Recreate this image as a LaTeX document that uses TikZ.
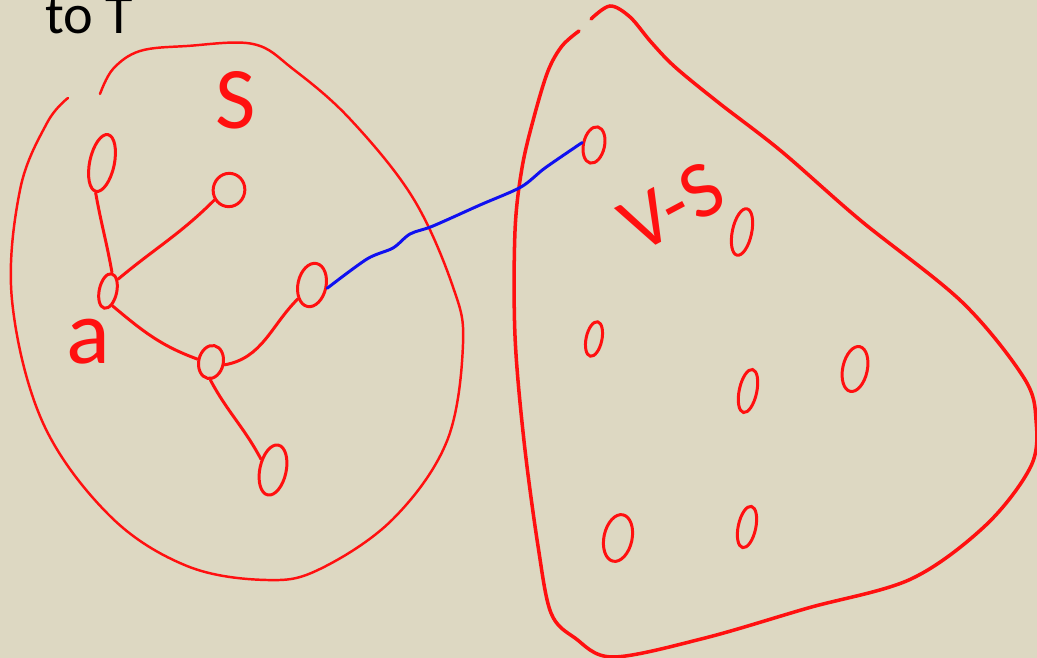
\documentclass[tikz,border=0pt]{standalone}
\usepackage{fontspec}
\setmainfont{Carlito}
\usetikzlibrary{shapes.geometric, calc}
\definecolor{paper}{HTML}{DDD8C2}
\definecolor{ink}{HTML}{FF1010}
\definecolor{bluink}{HTML}{1010F0}
\tikzset{
  vert/.style={ellipse, draw=ink, line width=1.7pt, inner sep=0pt, rotate=-12},
  edge/.style={draw=ink, line width=1.7pt, line cap=round},
  blob/.style={draw=ink, line width=1.4pt, line cap=round},
  bigblob/.style={blob, line width=2pt},
  hand/.style={text=ink},
  cross/.style={draw=bluink, line width=1.7pt, line cap=round},
}
\begin{document}
\begin{tikzpicture}[x=0.02cm, y=-0.02cm]
  \fill[paper] (0,0) rectangle (1037,658);
  \useasboundingbox (0,0) rectangle (1037,658);

  \node[anchor=base west, inner sep=0pt, font=\fontsize{32}{32}\selectfont] (title) at (45,34) {to T};

  % set S
  \draw[blob] plot[smooth, tension=0.6] coordinates {(100,94) (113,69) (140,51) (187,46) (253,44) (293,69) (350,119) (413,198) (453,287) (463,344) (447,441) (393,519) (320,569) (267,580) (187,566) (110,516) (43,423) (12,300) (20,190) (47,123) (68,98)};
  \node[hand, font=\fontsize{50}{50}\selectfont] (lblS) at (236,100) {S};
  \node[hand, font=\fontsize{52}{52}\selectfont] (lbla) at (88,342) {a};

  \node[vert, minimum width=14pt, minimum height=33pt] (v1) at (102,163) {};
  \node[vert, minimum width=18pt, minimum height=19pt] (v2) at (229,190) {};
  \node[vert, minimum width=10pt, minimum height=20pt] (a)  at (108,291) {};
  \node[vert, minimum width=16pt, minimum height=25pt] (v4) at (312,285) {};
  \node[vert, minimum width=14pt, minimum height=19pt] (v5) at (211,362) {};
  \node[vert, minimum width=15pt, minimum height=29pt] (v6) at (273,470) {};

  \draw[edge] (a.north) to[out=100, in=-80] (v1.south);
  \draw[edge] (a.north east) to[out=40, in=-135] (v2.south west);
  \draw[edge] (a.south east) to[out=-40, in=160] (v5.west);
  \draw[edge] (v5.east) to[out=10, in=-135] (v4.south west);
  \draw[edge] (v5.-80) to[out=-62, in=118] (v6.150);

  % V-S
  \draw[bigblob] plot[smooth, tension=0.55] coordinates {(591,19) (610,6) (630,17) (651,42) (675,67) (719,103) (781,151) (860,220) (962,302) (1024,378) (1036,420) (1031,466) (986,525) (911,579) (808,608) (705,638) (613,657) (575,638) (551,613) (538,546) (524,441) (515,336) (515,231) (522,168) (534,117) (548,71) (562,46) (579,31)};
  \node[hand, rotate=28, font=\fontsize{46}{46}\selectfont] (lblVS) at (672,207) {V-S};

  \node[vert, minimum width=12pt, minimum height=21pt] (w1) at (594,145) {};
  \foreach \n/\px/\py/\w/\h in {w2/742/232/11/27, w3/594/339/9/20, w4/748/391/10/25,
                                w5/855/369/14/26, w6/618/538/16/27, w7/747/527/10/24}
    \node[vert, minimum width=\w pt, minimum height=\h pt] (\n) at (\px,\py) {};

  \draw[cross] plot[smooth, tension=0.5] coordinates {(v4.east) (367,259) (393,248) (410,234) (433,226) (480,205) (521,187) (545,168) (w1.west)};
\end{tikzpicture}
\end{document}
